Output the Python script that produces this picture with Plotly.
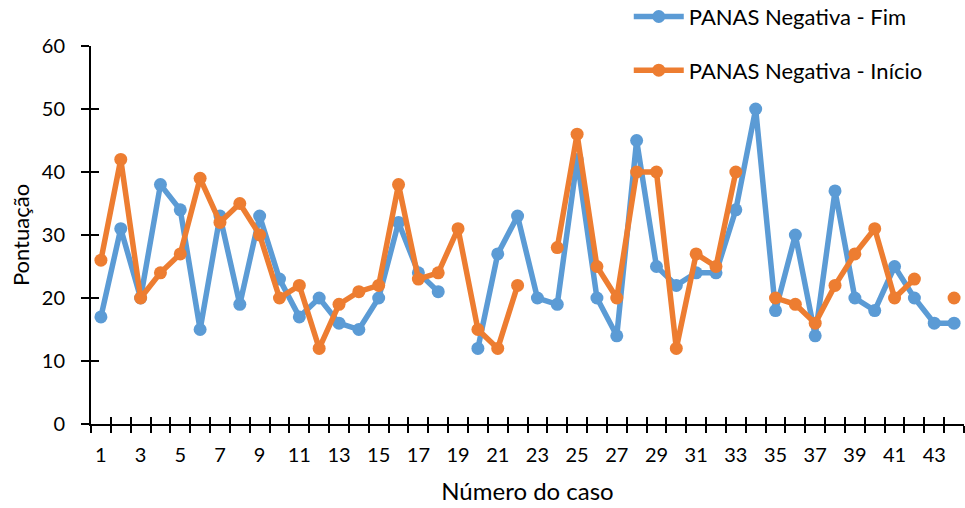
import plotly.graph_objects as go

# Case numbers and PANAS negative-affect scores (None = not recorded)
casos = list(range(1, 45))
fim = [17, 31, 20, 38, 34, 15, 33, 19, 33, 23, 17, 20, 16, 15, 20, 32, 24, 21, None, 12,
       27, 33, 20, 19, 42, 20, 14, 45, 25, 22, 24, 24, 34, 50, 18, 30, 14, 37, 20, 18,
       25, 20, 16, 16]
inicio = [26, 42, 20, 24, 27, 39, 32, 35, 30, 20, 22, 12, 19, 21, 22, 38, 23, 24, 31, 15,
          12, 22, None, 28, 46, 25, 20, 40, 40, 12, 27, 25, 40, None, 20, 19, 16, 22, 27, 31,
          20, 23, None, 20]
y_ticks = [0, 10, 20, 30, 40, 50, 60]
x_labels = [str(c) for c in casos if c % 2 == 1]
x_label_vals = [c for c in casos if c % 2 == 1]
boundaries = [c - 0.5 for c in casos] + [casos[-1] + 0.5]

FONT = "Lato"
BLUE = "#5B9BD5"
ORANGE = "#ED7D31"

fig = go.Figure()
fig.add_trace(go.Scatter(
    x=casos, y=fim, name="PANAS Negativa - Fim", mode="lines+markers",
    line=dict(color=BLUE, width=5.5), marker=dict(size=13, color=BLUE),
    connectgaps=False, legendgroup="a"))
fig.add_trace(go.Scatter(
    x=casos, y=inicio, name="PANAS Negativa - Início", mode="lines+markers",
    line=dict(color=ORANGE, width=5.5), marker=dict(size=13, color=ORANGE),
    connectgaps=False, legendgroup="b"))
# invisible trace so the overlay axes (inner half of the crossing ticks) are drawn
fig.add_trace(go.Scatter(x=[casos[0]], y=[0], xaxis="x2", yaxis="y2", mode="markers",
                         marker=dict(opacity=0), showlegend=False, hoverinfo="skip"))

fig.update_layout(
    width=965, height=508,
    margin=dict(l=91, r=1, t=46, b=84, autoexpand=False),
    paper_bgcolor="white", plot_bgcolor="white",
    font=dict(family=FONT, size=20, color="black"),
    showlegend=True,
    legend=dict(x=0.616, y=1.133, xanchor="left", yanchor="top",
                traceorder="grouped", tracegroupgap=22,
                font=dict(family=FONT, size=22, color="black"),
                bgcolor="rgba(0,0,0,0)", itemwidth=50),
    xaxis=dict(
        range=[0.5, 44.5], tickmode="array", tickvals=x_label_vals, ticktext=x_labels,
        ticks="", showgrid=False, zeroline=False,
        showline=True, linecolor="black", linewidth=2,
        minor=dict(tickmode="array", tickvals=boundaries, ticks="outside",
                   ticklen=7, tickwidth=2, tickcolor="black", showgrid=False),
        tickfont=dict(family=FONT, size=20), ticklabelstandoff=12,
        title=dict(text="Número do caso", font=dict(family=FONT, size=24), standoff=18),
    ),
    yaxis=dict(
        range=[0, 60], tickmode="array", tickvals=y_ticks,
        ticks="outside", ticklen=8, tickwidth=2, tickcolor="black",
        showgrid=False, zeroline=False,
        showline=True, linecolor="black", linewidth=2,
        tickfont=dict(family=FONT, size=20), ticklabelstandoff=12,
        title=dict(text="Pontuação", font=dict(family=FONT, size=22), standoff=6),
    ),
    xaxis2=dict(
        overlaying="x", matches="x", showticklabels=False, showgrid=False, zeroline=False,
        tickmode="array", tickvals=boundaries, ticks="inside", ticklen=7, tickwidth=2,
        tickcolor="black", showline=False,
    ),
    yaxis2=dict(
        overlaying="y", matches="y", showticklabels=False, showgrid=False, zeroline=False,
        tickmode="array", tickvals=y_ticks, ticks="inside",
        ticklen=8, tickwidth=2, tickcolor="black", showline=False,
    ),
)

fig.write_html("out.html")
